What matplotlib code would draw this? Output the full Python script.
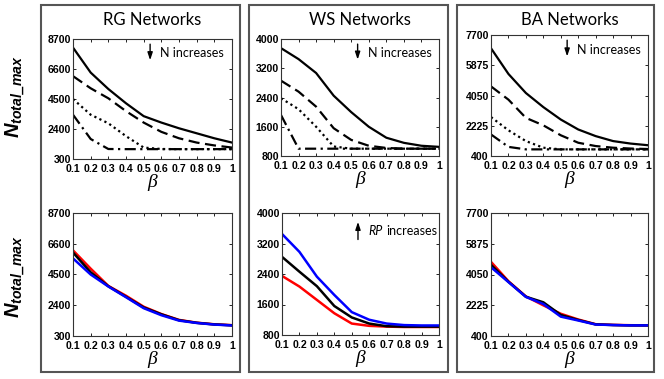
import matplotlib
matplotlib.use("Agg")
import matplotlib.pyplot as plt
from matplotlib.patches import Rectangle

plt.rcParams['mathtext.fontset'] = 'custom'
plt.rcParams['mathtext.it'] = 'Liberation Sans:bold:italic'
plt.rcParams['mathtext.rm'] = 'Liberation Sans:bold:italic'

beta = [0.1, 0.2, 0.3, 0.4, 0.5, 0.6, 0.7, 0.8, 0.9, 1.0]
xtick_labels = ['0.1', '0.2', '0.3', '0.4', '0.5', '0.6', '0.7', '0.8', '0.9', '1']

titles = ['RG Networks', 'WS Networks', 'BA Networks']
yticks_rg = [300, 2400, 4500, 6600, 8700]
yticks_ws = [800, 1600, 2400, 3200, 4000]
yticks_ba = [400, 2225, 4050, 5875, 7700]

# top row: four network sizes (solid, dashed, dotted, dash-dot)
rg_top = [
    [8100, 6350, 5200, 4200, 3300, 2850, 2450, 2100, 1750, 1450],
    [6100, 5250, 4550, 3650, 2850, 2200, 1750, 1450, 1250, 1100],
    [4500, 3400, 2800, 1900, 1100, 1000, 990, 990, 990, 990],
    [3400, 1700, 1000, 990, 990, 990, 990, 990, 990, 990],
]
ws_top = [
    [3750, 3450, 3070, 2450, 2000, 1600, 1300, 1160, 1080, 1050],
    [2860, 2560, 2150, 1560, 1240, 1080, 1020, 1000, 1000, 1000],
    [2380, 2080, 1600, 1060, 1000, 1000, 1000, 1000, 1000, 1000],
    [1920, 1000, 1000, 1000, 1000, 1000, 1000, 1000, 1000, 1000],
]
ba_top = [
    [6900, 5350, 4200, 3350, 2600, 2000, 1600, 1300, 1150, 1050],
    [4600, 3800, 2700, 2250, 1650, 1200, 1000, 900, 850, 820],
    [2750, 1950, 1300, 900, 800, 800, 800, 800, 800, 800],
    [1700, 950, 800, 800, 800, 800, 800, 800, 800, 800],
]

# bottom row: red, black, blue
rg_bot = [
    [6150, 4900, 3720, 3050, 2300, 1800, 1400, 1210, 1100, 1040],
    [6000, 4650, 3700, 2980, 2250, 1780, 1380, 1200, 1090, 1030],
    [5600, 4500, 3680, 2950, 2200, 1720, 1350, 1190, 1080, 1020],
]
ws_bot = [
    [2350, 2070, 1720, 1370, 1100, 1040, 1020, 1010, 1010, 1010],
    [2850, 2460, 2080, 1560, 1260, 1100, 1030, 1020, 1020, 1020],
    [3450, 2980, 2330, 1850, 1400, 1200, 1100, 1060, 1050, 1050],
]
ba_bot = [
    [4800, 3650, 2750, 2220, 1720, 1380, 1100, 1060, 1040, 1030],
    [4620, 3620, 2730, 2400, 1650, 1350, 1090, 1050, 1030, 1030],
    [4480, 3600, 2720, 2300, 1550, 1320, 1080, 1050, 1030, 1030],
]

W, H = 664, 379
fig = plt.figure(figsize=(W / 100, H / 100), dpi=100)


def px_axes(x0, y0, x1, y1):
    return fig.add_axes([x0 / W, 1 - y1 / H, (x1 - x0) / W, (y1 - y0) / H])


def px_box(x0, y0, x1, y1):
    fig.patches.append(Rectangle((x0 / W, 1 - y1 / H), (x1 - x0) / W, (y1 - y0) / H,
                                 transform=fig.transFigure, fill=False,
                                 edgecolor='#555555', lw=1.5))


def style_axes(ax, yticks):
    ax.set_xlim(0.1, 1.0)
    ax.set_ylim(yticks[0], yticks[-1])
    ax.set_xticks(beta)
    ax.set_xticklabels(xtick_labels)
    ax.set_yticks(yticks)
    ax.set_yticklabels([str(v) for v in yticks])
    ax.tick_params(direction='in', length=2.5, width=0.6, top=True, right=True, pad=1.5)
    ax.tick_params(axis='x', pad=3.5)
    for lab in ax.get_xticklabels() + ax.get_yticklabels():
        lab.set_fontfamily('Liberation Sans')
        lab.set_fontweight('bold')
        lab.set_fontsize(7.6)
    for s in ax.spines.values():
        s.set_linewidth(0.8)
        s.set_color('#333333')
    ax.set_xlabel('β', family='Liberation Serif', style='italic', fontsize=14, labelpad=0)


px_box(41, 5, 240, 372)
px_box(249, 5, 448, 372)
px_box(457, 5, 654, 372)

top_pos = [(73, 39, 232, 159), (281, 39, 439, 156), (491, 35, 648, 156)]
bot_pos = [(73, 213, 232, 336), (282, 213, 439, 335), (491, 213, 648, 336)]
tops = [rg_top, ws_top, ba_top]
bots = [rg_bot, ws_bot, ba_bot]
ytks = [yticks_rg, yticks_ws, yticks_ba]
styles = ['-', (0, (5, 2.5)), (0, (1, 1.5)), (0, (5, 2, 1, 2))]
colors = ['#ff0000', 'black', '#0000ff']
arrow = dict(arrowstyle='-|>,head_length=0.45,head_width=0.15', color='black', lw=1)

for i in range(3):
    ax = px_axes(*top_pos[i])
    for ys, ls in zip(tops[i], styles):
        ax.plot(beta, ys, color='black', lw=1.6, linestyle=ls)
    style_axes(ax, ytks[i])
    x0, y0, x1, y1 = top_pos[i]
    fig.text((x0 + x1) / 2 / W, 1 - 20 / H, titles[i], family='Lato', fontsize=12,
             ha='center', va='center')
    ax.annotate('', xy=(0.485, 0.8), xytext=(0.485, 0.98), xycoords='axes fraction',
                arrowprops=arrow)
    ax.text(0.55, 0.88, 'N increases', transform=ax.transAxes, family='Lato',
            fontsize=9, va='center', ha='left')

    ax = px_axes(*bot_pos[i])
    for ys, c in zip(bots[i], colors):
        ax.plot(beta, ys, color=c, lw=1.8)
    style_axes(ax, ytks[i])
    if i == 1:
        ax.annotate('', xy=(0.484, 0.95), xytext=(0.484, 0.76), xycoords='axes fraction',
                    arrowprops=arrow)
        ax.text(0.55, 0.855, 'RP', transform=ax.transAxes, family='Lato',
                style='italic', fontsize=9, va='center', ha='left')
        ax.text(0.665, 0.855, 'increases', transform=ax.transAxes, family='Lato',
                fontsize=9, va='center', ha='left')

fig.text(15 / W, 1 - 97 / H, r'$N_{total\_max}$', fontsize=14.5, rotation=90,
         ha='center', va='center')
fig.text(15 / W, 1 - 277 / H, r'$N_{total\_max}$', fontsize=14.5, rotation=90,
         ha='center', va='center')

fig.savefig('out.png', dpi=100)
